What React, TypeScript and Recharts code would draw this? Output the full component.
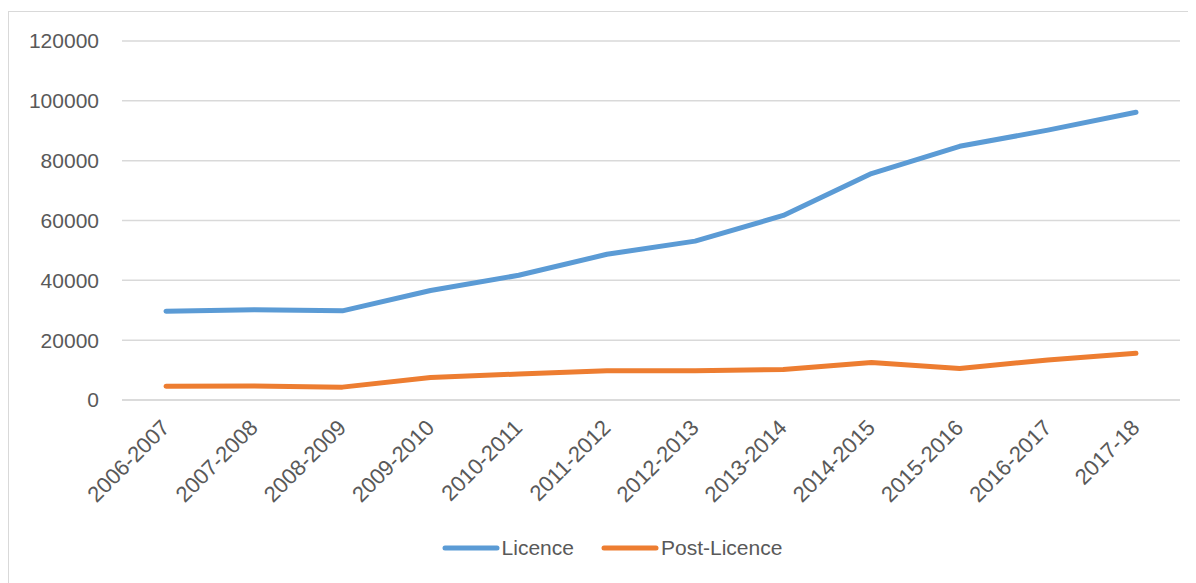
import React from "react";
import { LineChart, Line, XAxis, YAxis, CartesianGrid, Legend } from "recharts";

const years = [
  "2006-2007", "2007-2008", "2008-2009", "2009-2010", "2010-2011", "2011-2012",
  "2012-2013", "2013-2014", "2014-2015", "2015-2016", "2016-2017", "2017-18",
];
const licence = [29700, 30200, 29800, 36600, 41700, 48700, 53100, 61700, 75700, 84800, 90200, 96200];
const postLicence = [4600, 4700, 4300, 7500, 8700, 9800, 9800, 10200, 12500, 10500, 13400, 15600];
const yTicks = [0, 20000, 40000, 60000, 80000, 100000, 120000];

const data = years.map((y, i) => ({ year: y, Licence: licence[i], "Post-Licence": postLicence[i] }));

const FONT = "'Liberation Sans', Arial, sans-serif";
const TEXT = "#595959";
const GRID = "#D9D9D9";
const BLUE = "#5B9BD5";
const ORANGE = "#ED7D31";

const XTick = (props: any) => {
  const { x, y, payload } = props;
  return (
    <g transform={`translate(${x + 5},${y + 29})`}>
      <text x={0} y={0} textAnchor="end" transform="rotate(-45)" fill={TEXT} fontSize={22} fontFamily={FONT}>
        {payload.value}
      </text>
    </g>
  );
};

const LegendContent = () => {
  const items = [
    { name: "Licence", color: BLUE },
    { name: "Post-Licence", color: ORANGE },
  ];
  return (
    <div style={{ display: "flex", justifyContent: "center", alignItems: "center", height: 30, paddingLeft: 36, fontFamily: FONT, fontSize: 21, color: TEXT }}>
      {items.map((it, i) => (
        <div key={it.name} style={{ display: "flex", alignItems: "center", marginLeft: i === 0 ? 0 : 27 }}>
          <svg width={58} height={10} style={{ display: "block" }}>
            <line x1={3} y1={5} x2={55} y2={5} stroke={it.color} strokeWidth={5} strokeLinecap="round" />
          </svg>
          <span style={{ marginLeft: 2 }}>{it.name}</span>
        </div>
      ))}
    </div>
  );
};

export default function App() {
  return (
    <div style={{ position: "relative", width: 1188, height: 575, overflow: "hidden" }}>
      <div
        style={{
          position: "absolute",
          left: 0,
          top: 3,
          width: 1400,
          height: 800,
          border: `1.5px solid ${GRID}`,
          boxSizing: "border-box",
        }}
      />
      <div style={{ position: "absolute", left: 0, top: 0 }}>
        <LineChart width={1188} height={575} data={data} margin={{ top: 33, right: 16, left: 0, bottom: 20 }}>
          <CartesianGrid vertical={false} stroke={GRID} strokeWidth={1.5} />
          <XAxis
            dataKey="year"
            interval={0}
            height={133}
            tickLine={false}
            tickSize={0}
            tickMargin={0}
            axisLine={{ stroke: GRID, strokeWidth: 1.5 }}
            padding={{ left: 44, right: 44 }}
            tick={<XTick />}
          />
          <YAxis
            width={114}
            domain={[0, 120000]}
            ticks={yTicks}
            axisLine={false}
            tickLine={false}
            tickSize={0}
            tickMargin={23}
            tick={{ fill: TEXT, fontSize: 21, fontFamily: FONT }}
          />
          <Legend verticalAlign="bottom" content={<LegendContent />} />
          <Line type="linear" dataKey="Licence" stroke={BLUE} strokeWidth={5} strokeLinecap="round" strokeLinejoin="round" dot={false} activeDot={false} isAnimationActive={false} />
          <Line type="linear" dataKey="Post-Licence" stroke={ORANGE} strokeWidth={5} strokeLinecap="round" strokeLinejoin="round" dot={false} activeDot={false} isAnimationActive={false} />
        </LineChart>
      </div>
    </div>
  );
}
